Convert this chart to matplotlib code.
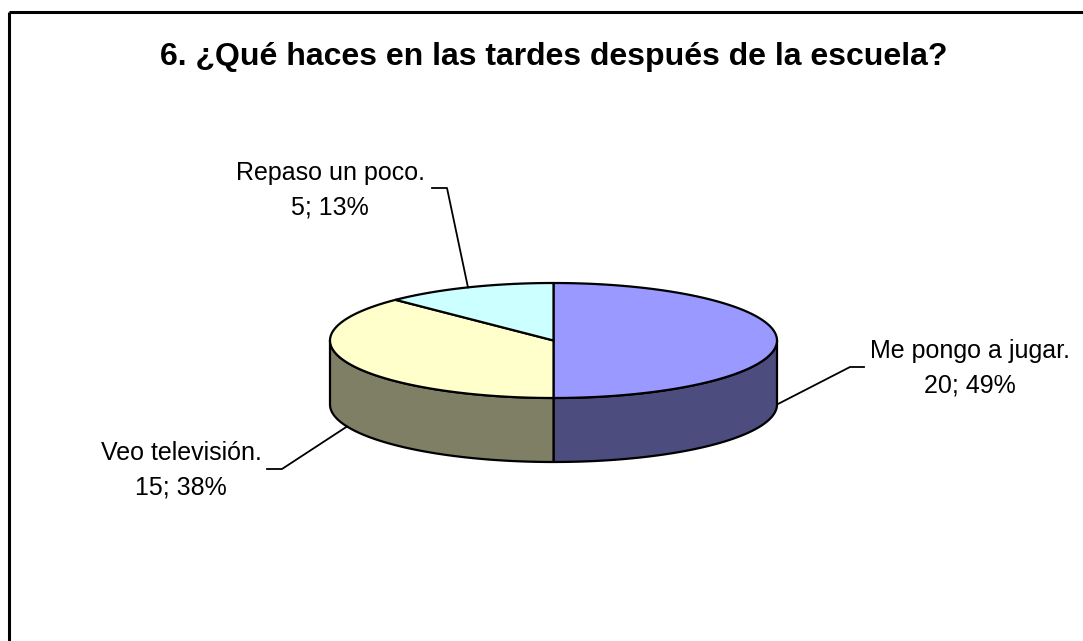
import numpy as np
import matplotlib
matplotlib.use("Agg")
import matplotlib.pyplot as plt
from matplotlib.patches import Polygon

plt.rcParams['font.family'] = ['Liberation Sans', 'DejaVu Sans']

# data
categories = ["Me pongo a jugar.", "Veo televisión.", "Repaso un poco."]
values = [20, 15, 5]
percents = [49, 38, 13]
top_colors = ["#9999FF", "#FFFFCC", "#CCFFFF"]
side_colors = ["#4C4C7F", "#7F7F66", "#667F7F"]
title = "6. ¿Qué haces en las tardes después de la escuela?"

# pie geometry (pixels)
cx, cy = 553.5, 340.5
rx, ry = 223.5, 57.5
depth = 64

# label centre x and first baseline y, leader elbows (pixels)
label_pos = [(970, 358), (181, 460), (330, 180)]
elbows = [[(850, 367), (864, 367)], [(282, 469), (267, 469)], [(447, 188), (432, 188)]]


def rim(t):
    # point on the top ellipse for angle t (degrees, counter-clockwise)
    r = np.radians(t)
    return cx + rx * np.cos(r), cy - ry * np.sin(r)


fig = plt.figure(figsize=(10.83, 6.41), dpi=100)
ax = fig.add_axes([0, 0, 1, 1])
ax.set_xlim(0, 1083)
ax.set_ylim(641, 0)
ax.axis("off")

# outer frame (top and left only visible)
ax.plot([9, 1083], [12, 12], color="black", lw=2.2, solid_capstyle="butt")
ax.plot([9, 9], [12, 641], color="black", lw=2.2, solid_capstyle="butt")

# slices go clockwise from 12 o'clock
total = float(sum(values))
starts = []
a = 90.0
for v in values:
    starts.append((a, a - 360.0 * v / total))
    a -= 360.0 * v / total

# sides (front half only)
for (a0, a1), sc in zip(starts, side_colors):
    lo, hi = min(a0, a1), max(a0, a1)
    # clip to the front half 180..360
    for shift in (0, 360, -360):
        l2, h2 = max(lo + shift, 180), min(hi + shift, 360)
        if h2 > l2:
            t = np.linspace(l2, h2, 80)
            xs, ys = rim(t)
            pts = np.concatenate([np.column_stack([xs, ys]),
                                  np.column_stack([xs[::-1], ys[::-1] + depth])])
            ax.add_patch(Polygon(pts, closed=True, facecolor=sc, edgecolor="black",
                                 lw=1.6, joinstyle="round"))

# top faces
for (a0, a1), tc in zip(starts, top_colors):
    t = np.linspace(a0, a1, 120)
    xs, ys = rim(t)
    pts = np.concatenate([[[cx, cy]], np.column_stack([xs, ys])])
    ax.add_patch(Polygon(pts, closed=True, facecolor=tc, edgecolor="black",
                         lw=1.6, joinstyle="round"))

# labels with leader lines
for (a0, a1), name, v, p, (lx, ly), elb in zip(starts, categories, values, percents,
                                                 label_pos, elbows):
    mid = (a0 + a1) / 2.0
    px, py = rim(mid)
    if np.sin(np.radians(mid)) <= 1e-9:
        py += depth
    ax.plot([px, elb[0][0], elb[1][0]], [py, elb[0][1], elb[1][1]],
            color="black", lw=1.3)
    ax.text(lx, ly, name, ha="center", va="baseline", fontsize=18)
    ax.text(lx, ly + 34, f"{v}; {p}%", ha="center", va="baseline", fontsize=18)

ax.text(554, 65, title, ha="center", va="baseline", fontsize=23, fontweight="bold")

fig.savefig("out.png", dpi=100)
